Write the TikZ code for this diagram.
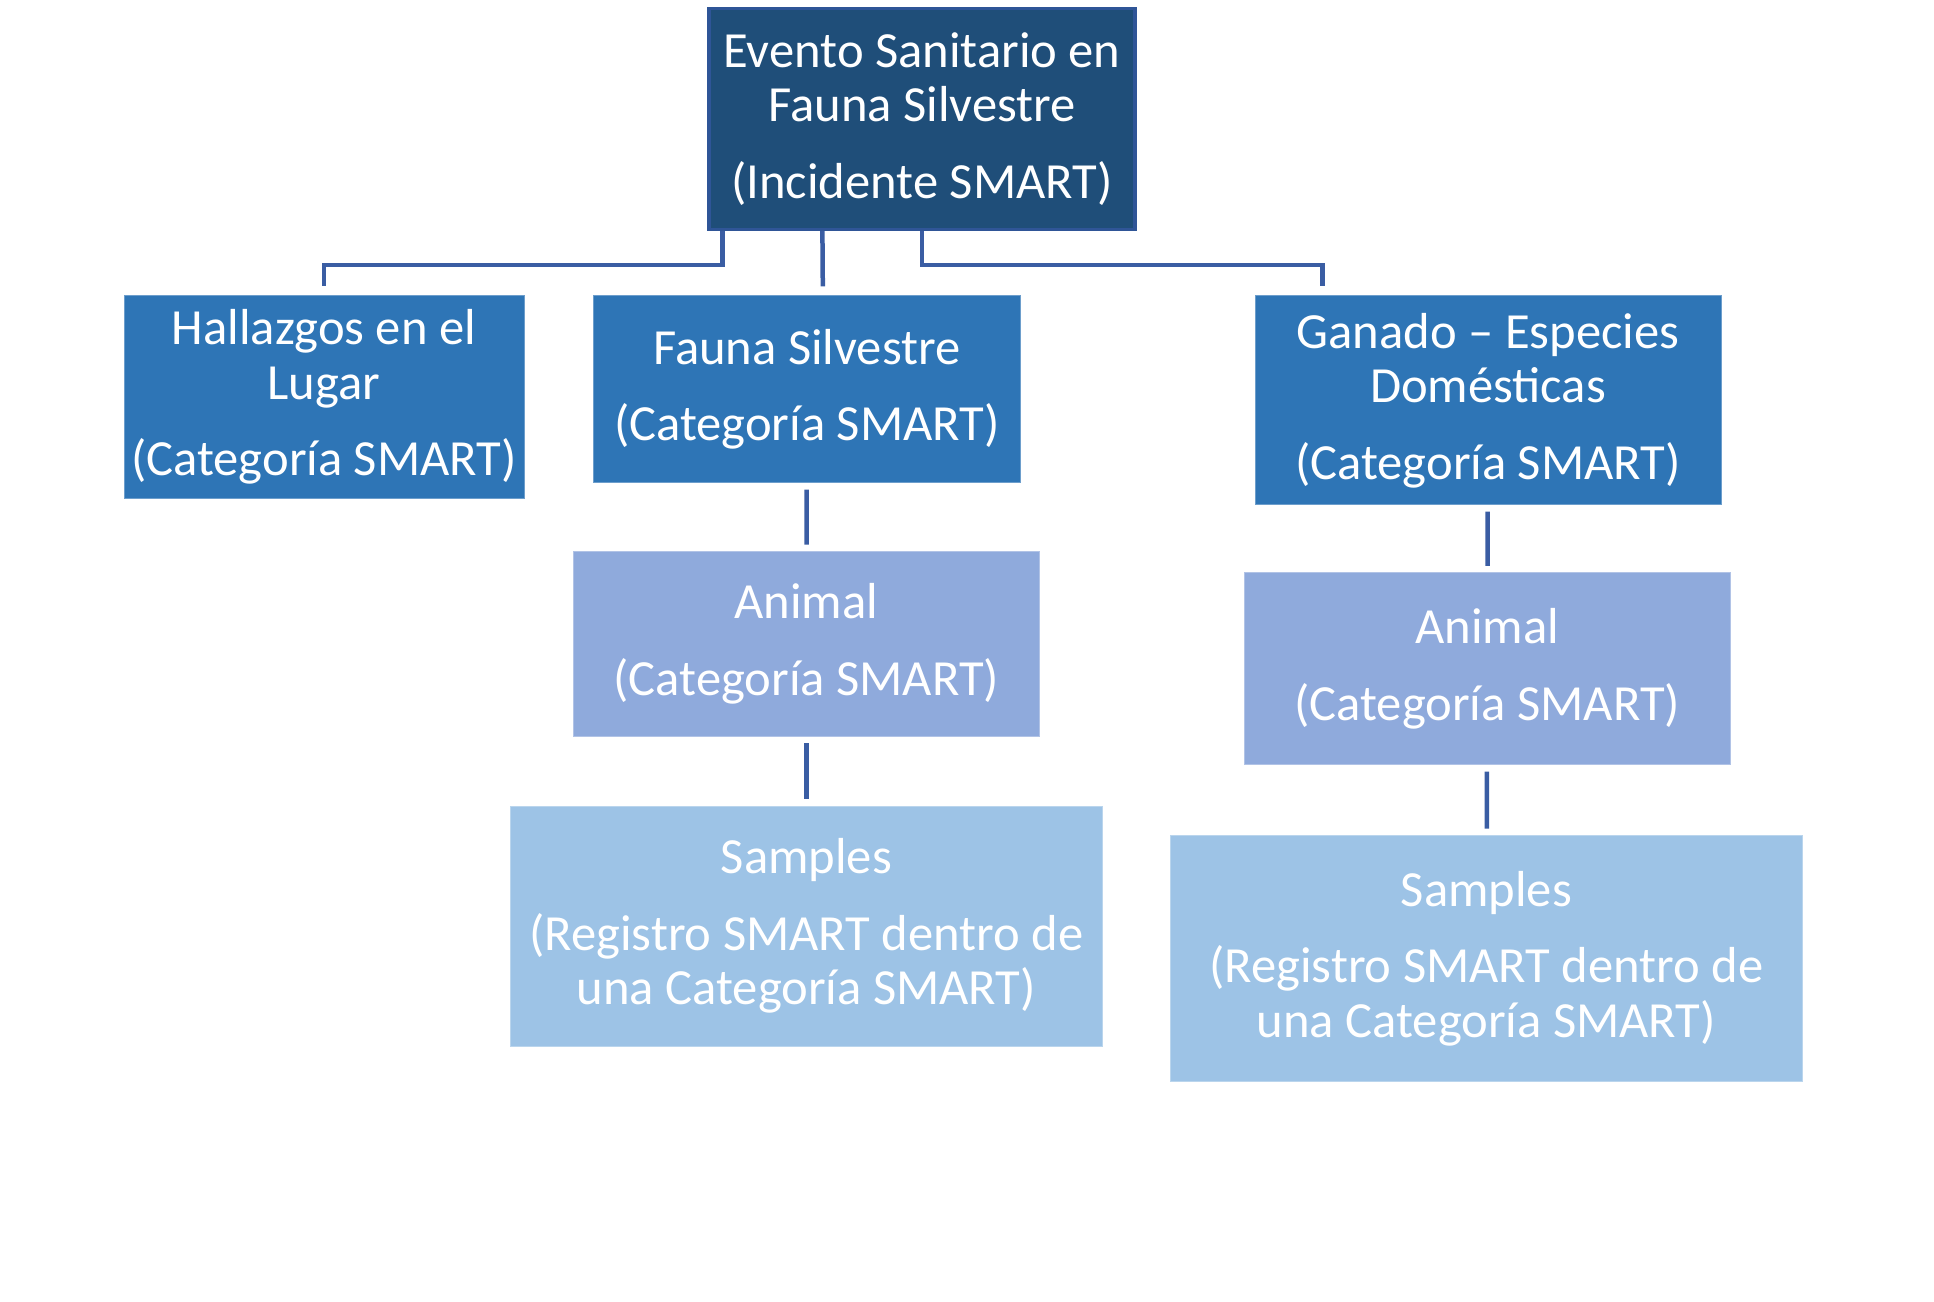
\documentclass[tikz,border=0pt]{standalone}
\usepackage{fontspec}
\setmainfont{Carlito}
\usetikzlibrary{positioning}
\definecolor{navybox}{HTML}{1F4E79}
\definecolor{navyrim}{HTML}{2F5597}
\definecolor{midbox}{HTML}{2E75B6}
\definecolor{animalbox}{HTML}{8FAADC}
\definecolor{samplebox}{HTML}{9DC3E6}
\definecolor{linkblue}{HTML}{3A5DA3}

\begin{document}
\begin{tikzpicture} [scale = 1,
  box/.style = {rectangle, text = white, align = center, inner sep = 0pt,
                font = \fontsize{36}{38.6}\selectfont},
  topbox/.style = {box, fill = navybox, draw = navyrim, line width = 2.2pt},
  catbox/.style = {box, fill = midbox, draw = midbox!70!white, line width = 0.6pt},
  animbox/.style = {box, fill = animalbox, draw = animalbox!70!white, line width = 0.6pt},
  sampbox/.style = {box, fill = samplebox, draw = samplebox!70!white, line width = 0.6pt},
  link/.style = {draw = linkblue, line width = 3.2pt},
  gap/.style = {shorten <= 0.16cm, shorten >= 0.16cm}]
\useasboundingbox (0, 0) rectangle (48.35, -32.525);
\node[topbox, minimum width = 10.65cm, minimum height = 5.52cm] (evento) at (23.05, -2.975)
  {Evento Sanitario en\\Fauna Silvestre\\[0.56cm](Incidente SMART)};
\node[catbox, minimum width = 10cm, minimum height = 5.075cm] (hallazgos) at (8.1, -9.93)
  {Hallazgos en el\\Lugar\\[0.56cm](Categoría SMART)};
\node[catbox, minimum width = 10.68cm, minimum height = 4.675cm] (fauna) at (20.17, -9.73)
  {Fauna Silvestre\\[0.56cm](Categoría SMART)};
\node[catbox, minimum width = 11.65cm, minimum height = 5.225cm] (ganado) at (37.2, -10.01)
  {Ganado -- Especies\\Domésticas\\[0.56cm](Categoría SMART)};
\node[animbox, minimum width = 11.65cm, minimum height = 4.625cm] (animalF) at (20.16, -16.1)
  {Animal\\[0.56cm](Categoría SMART)};
\node[animbox, minimum width = 12.15cm, minimum height = 4.8cm] (animalG) at (37.18, -16.72)
  {Animal\\[0.56cm](Categoría SMART)};
\node[sampbox, minimum width = 14.8cm, minimum height = 6cm] (samplesF) at (20.16, -23.15)
  {Samples\\[0.56cm](Registro SMART dentro de\\una Categoría SMART)};
\node[sampbox, minimum width = 15.8cm, minimum height = 6.15cm] (samplesG) at (37.16, -23.96)
  {Samples\\[0.56cm](Registro SMART dentro de\\una Categoría SMART)};
\draw[link] ([xshift = 0.375cm]evento.south west) -- ++(0, -0.85) -| ([yshift = 0.225cm]hallazgos.north);
\draw[link] ([xshift = -2.49cm]evento.south) -- ([xshift = 0.4cm, yshift = 0.225cm]fauna.north);
\draw[link] (evento.south) -- ++(0, -0.85) -| ([xshift = 1.7cm, yshift = 0.225cm]ganado.north west);
\draw[link, gap] (fauna) -- (animalF);
\draw[link, gap] (animalF) -- (samplesF);
\draw[link, gap] (ganado) -- (animalG);
\draw[link, gap] (animalG) -- (samplesG);
\end{tikzpicture}
\end{document}
